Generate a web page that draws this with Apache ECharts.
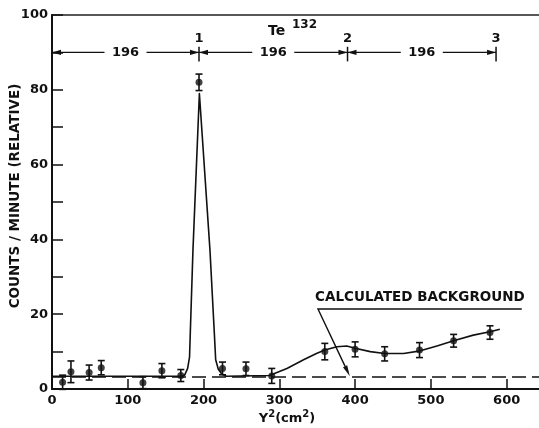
<!DOCTYPE html>
<html><head><meta charset="utf-8">
<script src="https://cdn.jsdelivr.net/npm/echarts@6/dist/echarts.min.js"></script>
<style>html,body{margin:0;padding:0;background:#fff}#c{width:539px;height:428px}</style>
</head><body><div id="c"></div>
<script>
// measured points (Y^2 in cm^2, counts/minute) with error half-widths
const pointX   = [14, 25, 49, 65, 120, 145, 170, 194, 225, 256, 290, 360, 400, 439, 485, 530, 578];
const pointY   = [1.8, 4.6, 4.4, 5.7, 1.7, 4.9, 3.6, 82, 5.5, 5.4, 3.5, 10.0, 10.6, 9.4, 10.4, 12.9, 15.1];
const pointErr = [1.9, 2.9, 2.0, 1.9, 1.6, 1.9, 1.6, 2.2, 1.7, 1.8, 2.0, 2.2, 2.0, 1.9, 2.0, 1.7, 1.8];
// drawn curve through the data
const curveX = [0, 170, 175, 179, 181.5, 182.5, 186, 194.5, 208.5, 214, 216, 219.5, 224, 230, 287, 310, 332, 349, 360, 376, 389, 400, 420, 439, 464, 486, 508, 530, 556, 578, 591];
const curveY = [3.4, 3.4, 3.7, 5.5, 8.5, 15, 37, 79, 37, 15.8, 7.8, 5.3, 4.0, 3.4, 3.6, 5.5, 7.8, 9.5, 10.4, 11.3, 11.5, 10.9, 10.0, 9.5, 9.5, 10.2, 11.5, 12.9, 14.4, 15.3, 16.0];
// calculated background level
const backgroundX = [0, 644];
const backgroundY = [3.2, 3.2];
// line positions of Te132 (Y^2 spacing 196)
const lineMarks = [194, 390, 586];
const lineLabels = ['1', '2', '3'];
const spacingStarts = [0, 194, 390];
const spacingEnds = [194, 390, 586];
const spacingLabels = ['196', '196', '196'];
const spacingY = 90;
// "calculated background" pointer (text end, corner, arrow tip)
const noteText = 'CALCULATED BACKGROUND';
const notePath = [[620, 21.4], [351, 21.4], [393, 3.4]];
const titleText = 'Te';
const titleSup = '132';
const titlePos = [285, 95.7];
const xTicks = [0, 100, 200, 300, 400, 500, 600];
const yTicks = [0, 20, 40, 60, 80, 100];

const FONT = '"DejaVu Sans", sans-serif';
const INK = '#111';

const chart = echarts.init(document.getElementById('c'));
const lineStyle = {stroke: INK, lineWidth: 1.4};

chart.setOption({
  animation: false,
  backgroundColor: '#fff',
  grid: {left: 52, right: -1, top: 15, bottom: 39, containLabel: false, outerBoundsMode: 'none',
    show: true, borderColor: '#222', borderWidth: 1.4, backgroundColor: 'transparent'},
  xAxis: {
    type: 'value', min: 0, max: 644, interval: 100,
    axisLine: {lineStyle: {color: INK, width: 2}},
    axisTick: {inside: true, length: 10, lineStyle: {color: INK, width: 1.5}},
    axisLabel: {color: INK, fontFamily: FONT, fontWeight: 'bold', fontSize: 13, margin: 5, showMaxLabel: false,
      formatter: v => xTicks.includes(v) ? String(v) : ''},
    splitLine: {show: false},
    name: '{b|Y}{s|2}{b|(cm}{s|2}{b|)}', nameLocation: 'middle', nameGap: 20, nameMoveOverlap: false,
    nameTextStyle: {padding: [0, 18, 0, 0], rich: {
      b: {fontFamily: FONT, fontWeight: 'bold', fontSize: 13, color: INK, lineHeight: 20},
      s: {fontFamily: FONT, fontWeight: 'bold', fontSize: 10, color: INK, verticalAlign: 'top'}
    }}
  },
  yAxis: {
    type: 'value', min: 0, max: 100, interval: 10,
    axisLine: {show: true, lineStyle: {color: INK, width: 2}},
    axisTick: {inside: true, length: 11, lineStyle: {color: INK, width: 1.5}},
    axisLabel: {color: INK, fontFamily: FONT, fontWeight: 'bold', fontSize: 13, margin: 4,
      formatter: v => yTicks.includes(v) ? String(v) : ''},
    splitLine: {show: false},
    name: 'COUNTS / MINUTE (RELATIVE)', nameLocation: 'middle', nameGap: 30, nameMoveOverlap: false,
    nameTextStyle: {fontFamily: FONT, fontWeight: 'bold', fontSize: 13.5, color: INK, padding: [0, 0, 0, 12]}
  },
  series: [
    {
      type: 'line', name: 'background', data: backgroundX.map((x, i) => [x, backgroundY[i]]),
      symbol: 'none', lineStyle: {color: INK, width: 1.5, type: [14, 6]}, z: 2
    },
    {
      type: 'line', name: 'curve', data: curveX.map((x, i) => [x, curveY[i]]),
      symbol: 'none', smooth: false, lineStyle: {color: INK, width: 1.6, join: 'round'}, z: 3
    },
    {
      type: 'custom', name: 'errors', data: pointX.map((x, i) => [x, pointY[i], pointErr[i]]),
      encode: {x: 0, y: 1}, z: 4,
      renderItem(params, api) {
        const x = api.value(0), y = api.value(1), e = api.value(2);
        const t = api.coord([x, y + e]), b = api.coord([x, y - e]);
        const w = 3.5;
        return {type: 'group', children: [
          {type: 'line', shape: {x1: t[0], y1: t[1], x2: b[0], y2: b[1]}, style: {stroke: INK, lineWidth: 1.6}},
          {type: 'line', shape: {x1: t[0] - w, y1: t[1], x2: t[0] + w, y2: t[1]}, style: {stroke: INK, lineWidth: 1.6}},
          {type: 'line', shape: {x1: b[0] - w, y1: b[1], x2: b[0] + w, y2: b[1]}, style: {stroke: INK, lineWidth: 1.6}}
        ]};
      }
    },
    {
      type: 'scatter', name: 'points', data: pointX.map((x, i) => [x, pointY[i]]),
      symbol: 'circle', symbolSize: 7, itemStyle: {color: INK}, z: 5
    },
    {
      type: 'custom', name: 'spacing', data: spacingStarts.map((s, i) => [s, spacingEnds[i], spacingY]),
      encode: {x: [0, 1], y: 2}, z: 6,
      renderItem(params, api) {
        const a = api.coord([api.value(0), api.value(2)]);
        const b = api.coord([api.value(1), api.value(2)]);
        const y = a[1], mid = (a[0] + b[0]) / 2, gap = 21, ah = 9, aw = 2.6;
        return {type: 'group', children: [
          {type: 'line', shape: {x1: a[0], y1: y, x2: mid - gap, y2: y}, style: lineStyle},
          {type: 'line', shape: {x1: mid + gap, y1: y, x2: b[0], y2: y}, style: lineStyle},
          {type: 'polygon', shape: {points: [[a[0], y], [a[0] + ah, y - aw], [a[0] + ah, y + aw]]}, style: {fill: INK}},
          {type: 'polygon', shape: {points: [[b[0], y], [b[0] - ah, y - aw], [b[0] - ah, y + aw]]}, style: {fill: INK}},
          {type: 'text', x: mid, y: y, style: {text: spacingLabels[params.dataIndex], fill: INK,
            font: 'bold 13px ' + FONT, align: 'center', verticalAlign: 'middle'}}
        ]};
      }
    },
    {
      type: 'custom', name: 'marks', data: lineMarks.map(x => [x, spacingY]),
      encode: {x: 0, y: 1}, z: 6,
      renderItem(params, api) {
        const x = api.value(0);
        const lo = api.coord([x, 87.6]), hi = api.coord([x, 91.5]);
        return {type: 'group', children: [
          {type: 'line', shape: {x1: lo[0], y1: lo[1], x2: hi[0], y2: hi[1]}, style: {stroke: INK, lineWidth: 1.5}},
          {type: 'text', x: hi[0], y: hi[1] - 2, style: {text: lineLabels[params.dataIndex], fill: INK,
            font: 'bold 13px ' + FONT, align: 'center', verticalAlign: 'bottom'}}
        ]};
      }
    },
    {
      type: 'custom', name: 'title', data: [titlePos],
      encode: {x: 0, y: 1}, z: 6,
      renderItem(params, api) {
        const p = api.coord([api.value(0), api.value(1)]);
        return {type: 'group', children: [
          {type: 'text', x: p[0], y: p[1], style: {text: titleText, fill: INK, font: 'bold 14px ' + FONT, align: 'left', verticalAlign: 'middle'}},
          {type: 'text', x: p[0] + 24, y: p[1] - 6, style: {text: titleSup, fill: INK, font: 'bold 12px ' + FONT, align: 'left', verticalAlign: 'middle'}}
        ]};
      }
    },
    {
      type: 'custom', name: 'note', data: [notePath[1]],
      encode: {x: 0, y: 1}, z: 6,
      renderItem(params, api) {
        const p = notePath.map(q => api.coord(q));
        const dx = p[2][0] - p[1][0], dy = p[2][1] - p[1][1], L = Math.hypot(dx, dy);
        const ux = dx / L, uy = dy / L, ah = 11, aw = 2.3;
        const bx = p[2][0] - ux * ah, by = p[2][1] - uy * ah;
        return {type: 'group', children: [
          {type: 'polyline', shape: {points: [p[0], p[1], [bx, by]]}, style: {stroke: INK, lineWidth: 1.4, fill: null}},
          {type: 'polygon', shape: {points: [p[2], [bx - uy * aw, by + ux * aw], [bx + uy * aw, by - ux * aw]]}, style: {fill: INK}},
          {type: 'text', x: (p[0][0] + p[1][0]) / 2, y: p[0][1] - 4, style: {text: noteText, fill: INK,
            font: 'bold 13.5px ' + FONT, align: 'center', verticalAlign: 'bottom'}}
        ]};
      }
    }
  ]
});
</script>
</body></html>
